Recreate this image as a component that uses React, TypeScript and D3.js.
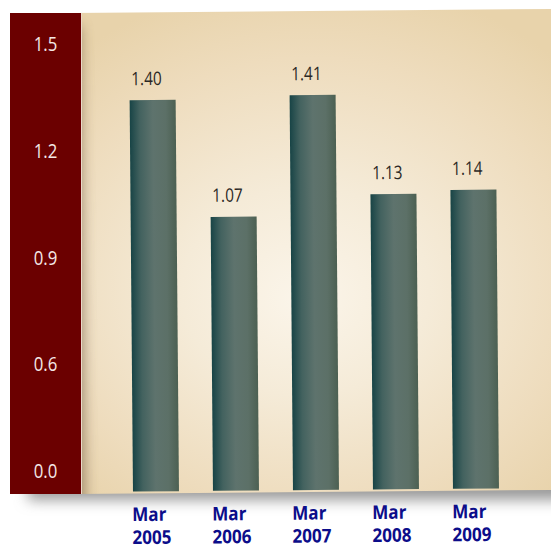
import React from "react";
import * as d3 from "d3";

// Fiscal year-end categories and the ratio for each
const categories = ["Mar 2005", "Mar 2006", "Mar 2007", "Mar 2008", "Mar 2009"];
const values = [1.4, 1.07, 1.41, 1.13, 1.14];
const valueLabels = ["1.40", "1.07", "1.41", "1.13", "1.14"];

// Broken y axis: 0.0 sits at the break, then 0.6 to 1.5 in even steps
const tickValues = [0, 0.6, 0.9, 1.2, 1.5];
const tickLabels = ["0.0", "0.6", "0.9", "1.2", "1.5"];

const W = 551;
const H = 547;
const PANEL_TOP = 13;
const PANEL_BOTTOM = 494;
const AXIS_LEFT = 10;
const AXIS_RIGHT = 81;
const TILT = -0.49;

const FONT = "'Open Sans', 'Noto Sans', sans-serif";

const x = d3
  .scaleBand<string>()
  .domain(categories)
  .range([116, 516])
  .paddingInner(0.425)
  .paddingOuter(0.2125);

const y = d3.scaleLinear().domain([0, 0.3, 1.5]).range([492, 492, 65]);

function Condensed({
  x: tx,
  y: ty,
  k,
  children,
  ...rest
}: {
  x: number;
  y: number;
  k: number;
  children: React.ReactNode;
  [key: string]: any;
}) {
  return (
    <text transform={`translate(${tx},${ty}) scale(${k},1)`} {...rest}>
      {children}
    </text>
  );
}

export default function App() {
  const rows = categories.map((c, i) => ({
    cat: c,
    value: values[i],
    label: valueLabels[i],
    month: c.split(" ")[0],
    year: c.split(" ")[1],
  }));

  return (
    <svg
      width={W}
      height={H}
      viewBox={`0 0 ${W} ${H}`}
      style={{ position: "fixed", left: 0, top: 0, display: "block", background: "#fff" }}
    >
      <defs>
        <radialGradient id="panelFill" cx="0.42" cy="0.55" r="0.62" fx="0.4" fy="0.6">
          <stop offset="0%" stopColor="#fbf5ea" />
          <stop offset="35%" stopColor="#f5ebd8" />
          <stop offset="75%" stopColor="#eedcbd" />
          <stop offset="100%" stopColor="#e8d3ab" />
        </radialGradient>
        <linearGradient id="barFill" x1="0" x2="1" y1="0" y2="0">
          <stop offset="0%" stopColor="#184446" />
          <stop offset="22%" stopColor="#43625f" />
          <stop offset="50%" stopColor="#5e736d" />
          <stop offset="78%" stopColor="#5c7067" />
          <stop offset="100%" stopColor="#4c6052" />
        </linearGradient>
        <filter id="softShadow" x="-20%" y="-50%" width="140%" height="200%">
          <feGaussianBlur stdDeviation="7" />
        </filter>
        <filter id="sideShadow" x="-100%" y="-10%" width="300%" height="120%">
          <feGaussianBlur stdDeviation="7" />
        </filter>
        <clipPath id="panelClip">
          <rect x={AXIS_RIGHT} y={PANEL_TOP} width={W} height={PANEL_BOTTOM - PANEL_TOP} />
        </clipPath>
      </defs>

      {/* drop shadow under both panels */}
      <rect
        x={28}
        y={440}
        width={600}
        height={60}
        fill="#9a9a9a"
        filter="url(#softShadow)"
      />

      <g transform={`rotate(${TILT},${AXIS_RIGHT},${PANEL_BOTTOM})`}>
        {/* plot panel */}
        <rect
          x={AXIS_RIGHT - 6}
          y={PANEL_TOP}
          width={W + 20}
          height={PANEL_BOTTOM - PANEL_TOP}
          fill="url(#panelFill)"
        />
        {/* shadow cast by the axis band */}
        <g clipPath="url(#panelClip)">
          <rect
            x={56}
            y={26}
            width={28}
            height={480}
            fill="#786448"
            opacity={0.72}
            filter="url(#sideShadow)"
          />
        </g>

        {rows.map((d) => {
          const bx = x(d.cat)!;
          const bw = x.bandwidth();
          return (
            <g key={d.cat}>
              <rect
                x={bx}
                y={y(d.value)}
                width={bw}
                height={y(0) - y(d.value)}
                fill="url(#barFill)"
              />
              <Condensed
                x={bx + bw / 2 - 6}
                y={y(d.value) - 15}
                k={0.83}
                textAnchor="middle"
                fontFamily={FONT}
                fontSize={18.5}
                fill="#2a2724"
              >
                {d.label}
              </Condensed>
              <Condensed
                x={bx + bw / 2 - 24}
                y={521.5}
                k={0.9}
                fontFamily={FONT}
                fontWeight={700}
                fontSize={19}
                fill="#0c0d8a"
              >
                {d.month}
              </Condensed>
              <Condensed
                x={bx + bw / 2 - 24}
                y={544.5}
                k={0.9}
                fontFamily={FONT}
                fontWeight={700}
                fontSize={19}
                fill="#0c0d8a"
              >
                {d.year}
              </Condensed>
            </g>
          );
        })}
      </g>

      {/* axis band */}
      <rect
        x={AXIS_LEFT}
        y={PANEL_TOP}
        width={AXIS_RIGHT - AXIS_LEFT}
        height={PANEL_BOTTOM - PANEL_TOP}
        fill="#6b0000"
      />
      <line
        x1={AXIS_RIGHT + 0.5}
        x2={AXIS_RIGHT + 0.5}
        y1={PANEL_TOP}
        y2={PANEL_BOTTOM}
        stroke="#ead8c8"
        strokeWidth={1}
      />
      {tickValues.map((t, i) => (
        <Condensed
          key={t}
          x={(AXIS_LEFT + AXIS_RIGHT) / 2}
          y={y(t) - 14}
          k={0.86}
          textAnchor="middle"
          fontFamily={FONT}
          fontSize={19.5}
          fill="#f4e8e6"
        >
          {tickLabels[i]}
        </Condensed>
      ))}
    </svg>
  );
}
